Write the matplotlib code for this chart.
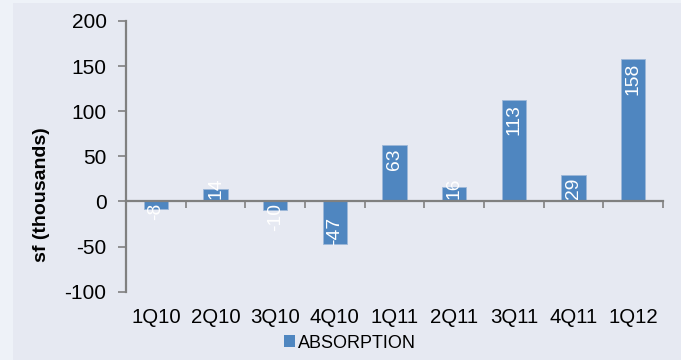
import numpy as np
import matplotlib
matplotlib.use('Agg')
import matplotlib.pyplot as plt
from matplotlib.patches import Rectangle, Patch

quarters = ['1Q10', '2Q10', '3Q10', '4Q10', '1Q11', '2Q11', '3Q11', '4Q11', '1Q12']
absorption = [-8, 14, -10, -47, 63, 16, 113, 29, 158]
series_name = 'ABSORPTION'

BAR_COLOR = '#4f86c0'
BG = '#e6e9f2'
plt.rcParams['font.family'] = ['Liberation Sans', 'DejaVu Sans']
plt.rcParams['axes.unicode_minus'] = False

fig = plt.figure(figsize=(6.81, 3.6), dpi=100, facecolor='#eef2f8')
# chart area panel (outer strip lighter on the top/left)
fig.patches.append(Rectangle((13 / 681, 0), 1, 1 - 3 / 360, transform=fig.transFigure,
                             facecolor=BG, edgecolor='none', zorder=-10))

ax = fig.add_axes([126 / 681, 1 - 291.7 / 360, (663 - 126) / 681, (291.7 - 21) / 360])
ax.set_facecolor('none')

x = np.arange(len(quarters))
ax.bar(x, absorption, width=0.41, color=BAR_COLOR, edgecolor='#9db8d8', linewidth=0.6, zorder=2)

ax.set_xlim(-0.5, len(quarters) - 0.5)
ax.set_ylim(-100, 200)
ax.set_yticks(range(-100, 201, 50))
ax.tick_params(axis='y', direction='out', length=6, width=1.2, color='#808080',
               labelsize=15, pad=8)

# x axis line sits at zero, ticks between categories
for s in ['top', 'right']:
    ax.spines[s].set_visible(False)
ax.spines['left'].set_color('#808080')
ax.spines['left'].set_linewidth(1.6)
ax.spines['bottom'].set_position(('data', 0))
ax.spines['bottom'].set_color('#808080')
ax.spines['bottom'].set_linewidth(1.6)
ax.set_xticks(np.arange(-0.5, len(quarters), 1.0))
ax.set_xticklabels([])
ax.tick_params(axis='x', direction='out', length=5, width=1.2, color='#808080')

sec = ax.secondary_xaxis('bottom')
sec.set_xticks(x)
sec.set_xticklabels(quarters)
sec.tick_params(length=0, labelsize=14.7, pad=12)
sec.spines['bottom'].set_visible(False)

ax.set_ylabel('sf (thousands)', fontsize=14, fontweight='bold')
ax.yaxis.set_label_coords(-0.1415, 0.36)

# data labels, "inside end", rotated
px_per_unit = 270.7 / 300
lab_fs = 13.9
for xi, v in zip(x, absorption):
    s = str(v)
    text_len = (len(s.replace('-', '')) * 0.556 + s.count('-') * 0.333) * lab_fs * 100 / 72
    bar_len = abs(v) * px_per_unit
    if v >= 0:
        if bar_len > text_len + 5:
            ax.annotate(s, (xi, v), xytext=(0, -3), textcoords='offset points',
                        rotation=90, ha='center', va='top', color='white', fontsize=lab_fs, zorder=3)
        else:
            ax.annotate(s, (xi, 0), xytext=(0, 1.5), textcoords='offset points',
                        rotation=90, ha='center', va='bottom', color='white', fontsize=lab_fs, zorder=3)
    else:
        if bar_len > text_len + 5:
            ax.annotate(s, (xi, v), xytext=(0, -1), textcoords='offset points',
                        rotation=90, ha='center', va='bottom', color='white', fontsize=lab_fs, zorder=3)
        else:
            ax.annotate(s, (xi, 0), xytext=(0, -1), textcoords='offset points',
                        rotation=90, ha='center', va='top', color='white', fontsize=lab_fs, zorder=3)

handle = Patch(facecolor=BAR_COLOR, edgecolor='none')
fig.legend([handle], [series_name], loc='center', bbox_to_anchor=(0.514, 0.047),
           frameon=False, fontsize=13, handlelength=0.6, handleheight=0.6,
           handletextpad=0.2, borderpad=0)

fig.savefig('out.png', dpi=100, facecolor=fig.get_facecolor())
